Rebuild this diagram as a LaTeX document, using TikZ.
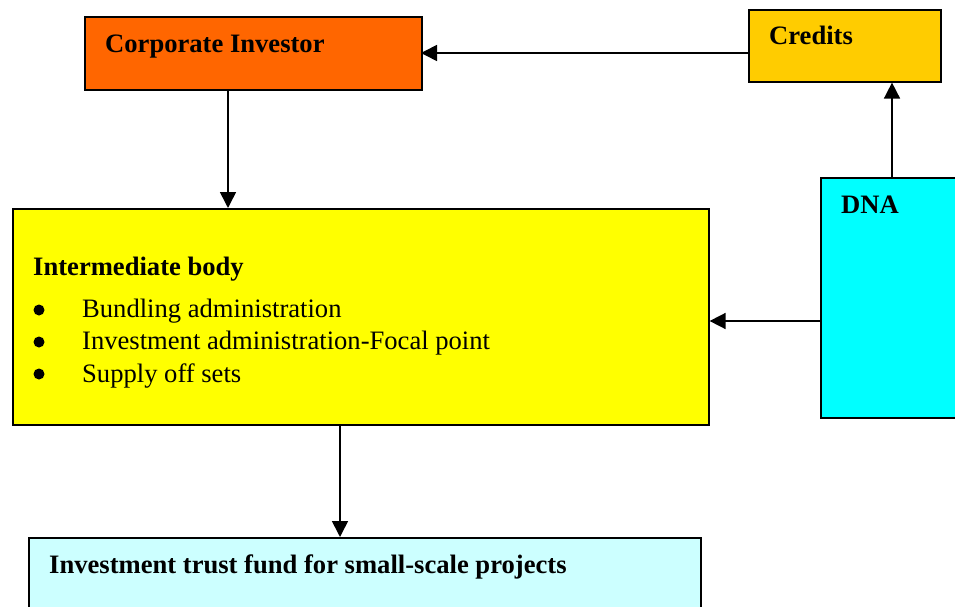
\documentclass[tikz,border=0pt]{standalone}
\usepackage{fontspec}
\setmainfont{Liberation Serif}
\usetikzlibrary{arrows.meta}

\definecolor{investorOrange}{HTML}{FF6600}
\definecolor{creditsGold}{HTML}{FFCC00}
\definecolor{dnaCyan}{HTML}{00FFFF}
\definecolor{bodyYellow}{HTML}{FFFF00}
\definecolor{fundCyan}{HTML}{CCFFFF}

\tikzset{
  box/.style={draw=black, line width=1.6pt, inner sep=0pt, anchor=north west},
  title/.style={anchor=base west, inner sep=0pt, font=\fontsize{26.6}{30}\selectfont\bfseries},
  item/.style={anchor=base west, inner sep=0pt, font=\fontsize{26.6}{30}\selectfont},
  dot/.style={circle, fill=black, inner sep=0pt, minimum size=11pt},
  flow/.style={draw=black, line width=1.6pt, -{Triangle[length=16pt,width=16pt]}}
}

\begin{document}
\begin{tikzpicture}[x=1pt, y=-1pt]
  \clip (0,0) rectangle (955,607);
  \fill[white] (0,0) rectangle (955,607);

  % boxes
  \node[box, fill=investorOrange, minimum width=337pt, minimum height=73pt] (investor) at (84,16) {};
  \node[box, fill=creditsGold, minimum width=192pt, minimum height=72pt] (credits) at (748,9) {};
  \node[box, fill=dnaCyan, minimum width=160pt, minimum height=240pt] (dna) at (820,177) {};
  \node[box, fill=bodyYellow, minimum width=696pt, minimum height=216pt] (body) at (12,208) {};
  \node[box, fill=fundCyan, minimum width=672pt, minimum height=100pt] (fund) at (28,537) {};

  % labels
  \node[title] (investorText) at (105,53) {Corporate Investor};
  \node[title] (creditsText) at (769,45) {Credits};
  \node[title] (dnaText) at (841,213) {DNA};
  \node[title] (bodyText) at (33,275) {Intermediate body};
  \node[dot] (b1) at (39,310) {};
  \node[item] (i1) at (82,317) {Bundling administration};
  \node[dot] (b2) at (39,342) {};
  \node[item] (i2) at (82,349) {Investment administration-Focal point};
  \node[dot] (b3) at (39,374) {};
  \node[item] (i3) at (82,382) {Supply off sets};
  \node[title] (fundText) at (49,573) {Investment trust fund for small-scale projects};

  % connectors
  \coordinate (cL) at (748,53);
  \coordinate (iR) at (421,53);
  \draw[flow] (cL) -- (iR);
  \draw[flow] (investor.south -| 228,0) -- (body.north -| 228,0);
  \draw[flow] (dna.north -| 892,0) -- (credits.south -| 892,0);
  \draw[flow] (dna.west |- 0,321) -- (body.east |- 0,321);
  \draw[flow] (body.south -| 340,0) -- (fund.north -| 340,0);
\end{tikzpicture}
\end{document}
